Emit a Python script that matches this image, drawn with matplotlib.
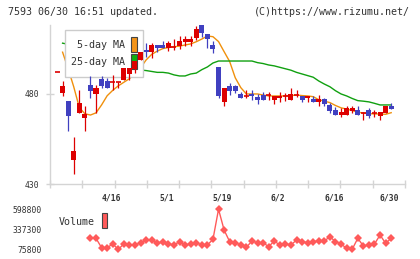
import matplotlib
matplotlib.use("Agg")
import matplotlib.pyplot as plt
from matplotlib.patches import Rectangle
import numpy as np

# daily candles, 4/2 .. 6/30 (index 0..60)
opens = [492.0, 480.7, 476.1, 443.3, 469.6, 466.9, 485.0, 479.8, 488.1, 487.2,
         486.9, 486.9, 487.8, 491.0, 493.7, 498.9, 504.4, 503.2, 507.2, 507.2,
         505.7, 506.3, 506.8, 509.1, 509.1, 510.9, 518.3, 513.3, 507.2, 494.8,
         475.7, 484.4, 484.4, 479.8, 479.1, 480.0, 478.1, 479.4, 479.4, 476.7,
         478.0, 479.1, 476.7, 479.4, 479.1, 478.0, 477.2, 475.7, 477.2, 473.9,
         471.1, 468.3, 468.3, 470.7, 471.1, 469.3, 471.1, 469.3, 467.8, 469.6,
         473.3]
highs = [492.0, 487.2, 476.1, 456.3, 482.2, 473.5, 490.0, 485.0, 490.0, 488.7,
         490.5, 486.9, 494.3, 494.3, 498.5, 503.2, 508.2, 508.5, 507.2, 509.4,
         509.6, 510.4, 512.2, 512.4, 512.4, 517.9, 518.3, 513.3, 509.5, 494.8,
         483.1, 485.9, 485.0, 481.3, 482.2, 482.2, 480.0, 480.9, 481.3, 479.1,
         481.3, 480.5, 483.1, 482.2, 479.1, 479.1, 479.1, 479.4, 478.0, 474.8,
         473.0, 472.0, 473.3, 473.3, 473.3, 470.2, 472.0, 471.1, 469.8, 473.3,
         474.8]
lows = [492.0, 478.9, 459.6, 435.6, 469.6, 459.6, 478.0, 469.6, 483.1, 483.1,
        482.2, 483.1, 487.8, 487.8, 491.5, 498.9, 500.7, 499.8, 503.2, 505.7,
        504.0, 504.4, 504.8, 506.8, 506.8, 510.0, 511.8, 505.7, 503.0, 477.9,
        473.5, 479.4, 480.5, 478.0, 478.0, 476.7, 474.4, 476.7, 476.7, 474.4,
        475.7, 476.0, 476.7, 478.1, 475.7, 475.7, 475.7, 473.5, 473.3, 469.6,
        468.3, 467.4, 468.3, 469.6, 468.3, 465.6, 466.9, 467.0, 465.6, 469.6,
        471.8]
closes = [492.0, 484.6, 468.0, 448.3, 474.8, 468.7, 481.9, 483.1, 484.6, 483.1,
          486.9, 486.9, 494.3, 494.3, 498.5, 503.2, 503.2, 507.2, 505.7, 505.7,
          508.5, 506.3, 509.4, 510.6, 510.6, 516.1, 514.1, 510.4, 505.0, 478.9,
          483.1, 481.9, 481.9, 478.0, 479.1, 479.0, 476.7, 476.7, 479.4, 479.1,
          479.1, 479.1, 480.0, 479.4, 476.7, 479.1, 475.7, 477.2, 474.4, 470.7,
          468.3, 469.8, 472.0, 472.0, 468.3, 469.3, 467.8, 469.3, 469.8, 473.3,
          471.8]

ma5 = [np.nan, 503.2, 494.0, 484.0, 472.5, 469.0, 468.3, 469.5, 473.9, 479.0,
       482.0, 484.5, 486.5, 488.5, 491.5, 494.5, 498.9, 502.0, 503.8, 505.2,
       505.8, 506.2, 506.6, 507.2, 507.8, 509.0, 510.5, 512.2, 511.8, 509.1,
       503.5, 498.0, 489.0, 483.5, 480.0, 480.0, 480.0, 479.4, 478.9, 478.9,
       478.9, 478.9, 479.1, 479.4, 479.1, 478.9, 478.5, 476.8, 476.0, 475.2,
       473.6, 472.3, 471.6, 470.8, 469.9, 469.4, 469.1, 468.9, 468.9, 468.7,
       469.6]
ma25 = [np.nan, 508.2, 507.6, 506.9, 506.0, 505.0, 504.1, 503.0, 502.0, 500.8,
        499.6, 498.3, 497.0, 495.7, 494.5, 493.3, 493.0, 492.5, 492.0, 492.0,
        491.6, 490.6, 490.0, 490.0, 491.1, 491.6, 493.5, 495.0, 497.2, 498.3,
        498.3, 498.3, 498.3, 498.3, 498.3, 498.3, 497.4, 496.9, 496.1, 495.6,
        494.8, 494.0, 493.2, 492.0, 491.1, 490.2, 489.3, 487.2, 485.5, 484.0,
        481.8, 480.0, 478.9, 477.5, 476.3, 476.0, 475.6, 474.8, 473.9, 473.9,
        473.9]

# volume from 4/10 (index 6) onwards
vol_start = 6
volume = [219600, 219600, 96700, 96700, 145100, 75800, 145100, 132000, 132000,
          162100, 197400, 197400, 154300, 175200, 145100, 132000, 175200, 132000,
          145100, 162100, 132000, 132000, 206500, 598800, 328100, 175200, 162100,
          132000, 102000, 184300, 162100, 162100, 110000, 184300, 132000, 145100,
          132000, 197400, 175200, 162100, 175200, 184300, 184300, 240600, 175200,
          145100, 88900, 75800, 219600, 119000, 132000, 145100, 262600, 154300,
          219600]

date_idx = [10, 20, 30, 40, 50, 60]
date_labels = ["4/16", "5/1", "5/19", "6/2", "6/16", "6/30"]
price_ticks = [430, 480]
vol_ticks = [75800, 337300, 598800]

RED = "#dd0000"
BLUE = "#4040c0"
GRID = "#d4d4d4"
MONO = "DejaVu Sans Mono"

fig = plt.figure(figsize=(4.2, 2.59), dpi=100)
W, H = 420, 259

def pos(x0, y0, x1, y1):
    return [x0 / W, 1 - y1 / H, (x1 - x0) / W, (y1 - y0) / H]

ax = fig.add_axes(pos(50, 25, 405, 184))
xlim = (-1.26, 62.48)
ax.set_xlim(xlim)
ax.set_ylim(430, 518.3)

n = len(opens)
x = np.arange(n)
for i in range(n):
    o, h, l, c = opens[i], highs[i], lows[i], closes[i]
    col = RED if c >= o else BLUE
    ax.vlines(i, l, h, color=col, lw=0.9, zorder=4)
    if abs(c - o) < 0.3:
        ax.hlines(o, i - 0.45, i + 0.45, color=col, lw=1.2, zorder=4)
    else:
        ax.bar(i, abs(c - o), bottom=min(o, c), width=0.9, color=col,
               lw=0, zorder=4)

ax.plot(x, ma5, color="#f0900c", lw=1.0, zorder=2)
ax.plot(x, ma25, color="#10a010", lw=1.0, zorder=2)

# legend box (sits under the candles, over the lines)
ax.add_patch(Rectangle((0.042, 0.673), 0.22, 0.296, transform=ax.transAxes,
                       facecolor="white", edgecolor="#cccccc", lw=1.0, zorder=3))
ax.text(0.211, 0.874, "5-day MA", transform=ax.transAxes, ha="right", va="center",
        fontsize=7.2, family=MONO, color="#333333", zorder=3.5)
ax.text(0.211, 0.767, "25-day MA", transform=ax.transAxes, ha="right", va="center",
        fontsize=7.2, family=MONO, color="#333333", zorder=3.5)
ax.add_patch(Rectangle((0.228, 0.830), 0.017, 0.094, transform=ax.transAxes,
                       facecolor="#f39419", edgecolor="#444444", lw=0.8, zorder=3.5))
ax.add_patch(Rectangle((0.228, 0.723), 0.017, 0.094, transform=ax.transAxes,
                       facecolor="#10b010", edgecolor="#444444", lw=0.8, zorder=3.5))

for s in ["top", "right"]:
    ax.spines[s].set_visible(False)
for s in ["left", "bottom"]:
    ax.spines[s].set_color(GRID)
    ax.spines[s].set_linewidth(1.0)
ax.set_yticks(price_ticks)
ax.set_yticklabels([str(t) for t in price_ticks], family=MONO, fontsize=5.8,
                   color="#333333")
ax.set_xticks(np.linspace(xlim[0], xlim[1], 12))
ax.set_xticklabels([])
ax.tick_params(axis="both", direction="inout", length=6, width=1.0, color=GRID)
ax.tick_params(axis="y", pad=5)
for xi, lab in zip(date_idx, date_labels):
    ax.text(xi - 0.3, -0.085, lab, transform=ax.get_xaxis_transform(),
            ha="center", va="center", fontsize=5.8, family=MONO,
            fontweight="bold", color="#333333")

# volume panel
axv = fig.add_axes(pos(50, 205, 405, 253))
axv.set_xlim(xlim)
axv.set_ylim(27400, 655000)
xv = np.arange(vol_start, vol_start + len(volume))
axv.plot(xv, volume, color="#ff5a5a", lw=1.0, marker="D", markersize=4.4,
         markeredgewidth=0)
for s in axv.spines.values():
    s.set_visible(False)
axv.set_xticks([])
axv.set_yticks(vol_ticks)
axv.set_yticklabels([str(t) for t in vol_ticks], family=MONO, fontsize=5.8,
                    color="#333333")
axv.tick_params(axis="y", length=0, pad=6)
fig.text(59 / W, 1 - 222 / H, "Volume", ha="left", va="center", fontsize=7.2,
         family=MONO, color="#333333")
fig.patches.append(Rectangle((102 / W, 1 - 228 / H), 5 / W, 15 / H,
                             transform=fig.transFigure, facecolor="#ff5a5a",
                             edgecolor="#444444", lw=0.8))

fig.text(8 / W, 1 - 12 / H, "7593 06/30 16:51 updated.", ha="left", va="center",
         fontsize=7.2, family=MONO, color="#333333")
fig.text(410 / W, 1 - 12 / H, "(C)https://www.rizumu.net/", ha="right",
         va="center", fontsize=7.2, family=MONO, color="#333333")

fig.savefig("out.png", dpi=100)
